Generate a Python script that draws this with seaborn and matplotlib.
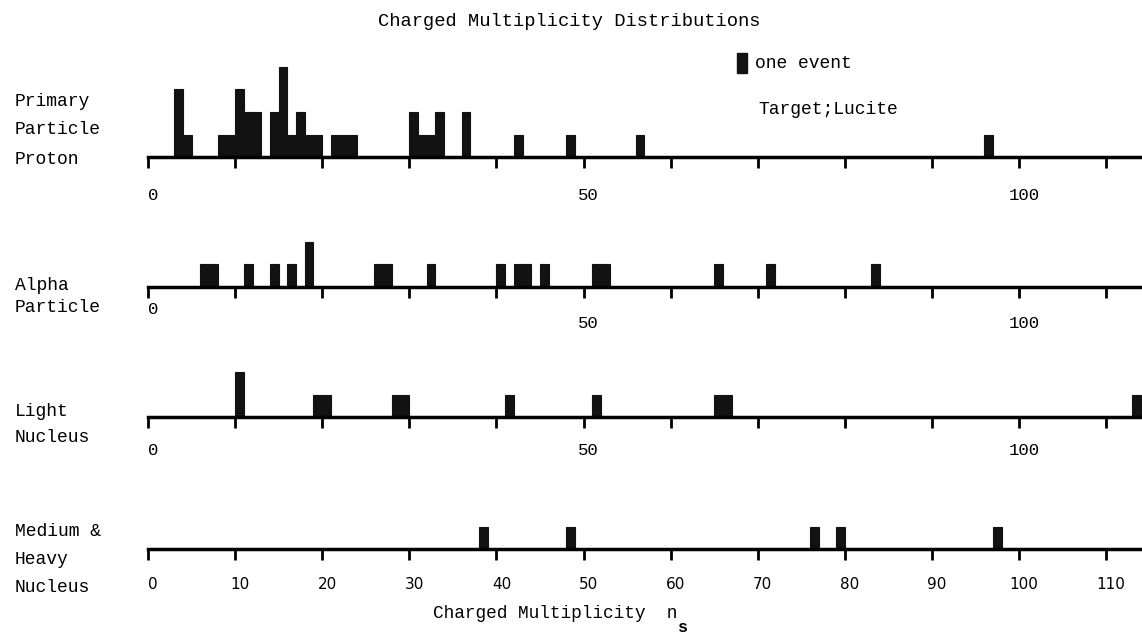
import numpy as np
import pandas as pd
import matplotlib
matplotlib.use("Agg")
import matplotlib.pyplot as plt
import matplotlib.transforms as mtransforms
from matplotlib.patches import Rectangle
import seaborn as sns

# ---------------- data (multiplicity n_s and number of events) ----------------
proton_ns     = [3, 4, 8, 9, 10, 11, 12, 14, 15, 16, 17, 18, 19, 21, 22, 23,
                 30, 31, 32, 33, 36, 42, 48, 56, 96]
proton_events = [3, 1, 1, 1, 3, 2, 2, 2, 4, 1, 2, 1, 1, 1, 1, 1,
                 2, 1, 1, 2, 2, 1, 1, 1, 1]

alpha_ns      = [6, 7, 11, 14, 16, 18, 26, 27, 32, 40, 42, 43, 45, 51, 52, 65, 71, 83]
alpha_events  = [1, 1, 1, 1, 1, 2, 1, 1, 1, 1, 1, 1, 1, 1, 1, 1, 1, 1]

light_ns      = [10, 19, 20, 28, 29, 41, 51, 65, 66, 113]
light_events  = [2, 1, 1, 1, 1, 1, 1, 1, 1, 1]

heavy_ns      = [38, 48, 76, 79, 97]
heavy_events  = [1, 1, 1, 1, 1]

row_labels = [["Primary", "Particle", "Proton"],
              ["Alpha", "Particle"],
              ["Light", "Nucleus"],
              ["Medium &", "Heavy", "Nucleus"]]

tick_values = list(range(0, 111, 10))
top_tick_labels = ["0", "", "", "", "", "50", "", "", "", "", "100", ""]
bottom_tick_labels = [str(v) for v in tick_values]

title = "Charged Multiplicity Distributions"
xlabel = "Charged Multiplicity  n"
legend_text = "one event"
target_text = "Target;Lucite"

# ---------------- figure ----------------
sns.set_theme(style="white")
plt.rcParams["font.family"] = ["Liberation Mono", "DejaVu Sans"]

W, H = 1142, 635
fig = plt.figure(figsize=(W / 100, H / 100), dpi=100)

BAR = "#121212"
x0_px = 148
px_per_unit = 8.71
unit_px = 22.5
ymax = 4.6
xmax = (W - x0_px) / px_per_unit

panels = [
    (proton_ns, proton_events, 157, row_labels[0], [101, 130, 160], 20),
    (alpha_ns, alpha_events, 287, row_labels[1], [286, 308], 18),
    (light_ns, light_events, 417, row_labels[2], [411, 438], 15),
    (heavy_ns, heavy_events, 549, row_labels[3], [532, 559, 587], 17),
]

for i, (ns, ev, base, labels, label_ys, pad_px) in enumerate(panels):
    h_px = ymax * unit_px
    ax = fig.add_axes([x0_px / W, (H - base) / H, (W - x0_px) / W, h_px / H])
    df = pd.DataFrame({"ns": np.repeat(ns, ev)})
    sns.histplot(data=df, x="ns", binwidth=1, binrange=(0, 115), ax=ax,
                 color=BAR, alpha=1, edgecolor=BAR, linewidth=0.8)
    ax.set_xlim(0, xmax)
    ax.set_ylim(0, ymax)
    ax.set_xlabel("")
    ax.set_ylabel("")
    ax.set_yticks([])
    for s in ["top", "left", "right"]:
        ax.spines[s].set_visible(False)
    ax.spines["bottom"].set_linewidth(2.5)
    ax.spines["bottom"].set_color("black")
    ax.set_xticks(tick_values)
    last = (i == 3)
    ax.set_xticklabels(bottom_tick_labels if last else top_tick_labels)
    ax.tick_params(axis="x", which="major", bottom=True, direction="out",
                   length=8, width=2.0, color="black", pad=pad_px * 0.72,
                   labelsize=11 if last else 12.5)
    for lab in ax.get_xticklabels():
        if last:
            lab.set_fontfamily(["DejaVu Sans"])
        else:
            lab.set_fontfamily(["Liberation Mono"])
        lab.set_color("black")
        lab.set_transform(lab.get_transform() +
                          mtransforms.ScaledTranslation(0.05, 0, fig.dpi_scale_trans))
    if i == 1:
        # the "0" of the alpha panel sits higher in the original
        lab0 = ax.get_xticklabels()[0]
        lab0.set_transform(lab0.get_transform() +
                           mtransforms.ScaledTranslation(0, 0.14, fig.dpi_scale_trans))
    ax.set_facecolor("none")
    for txt, y in zip(labels, label_ys):
        fig.text(15 / W, 1 - y / H, txt, ha="left", va="center",
                 fontsize=13, color="black")

# title and annotations
fig.text(569 / W, 1 - 22 / H, title, ha="center", va="center", fontsize=13.5, color="black")
fig.patches.append(Rectangle((737 / W, 1 - 73 / H), 10 / W, 20 / H,
                             transform=fig.transFigure, color=BAR))
fig.text(755 / W, 1 - 63 / H, legend_text, ha="left", va="center", fontsize=13, color="black")
fig.text(758 / W, 1 - 109 / H, target_text, ha="left", va="center", fontsize=13, color="black")
fig.text(433 / W, 1 - 614 / H, xlabel, ha="left", va="center", fontsize=12.8, color="black")
fig.text(678 / W, 1 - 627 / H, "s", ha="left", va="center", fontsize=12, color="black",
         fontweight="bold")

fig.savefig("out.png", dpi=100)
